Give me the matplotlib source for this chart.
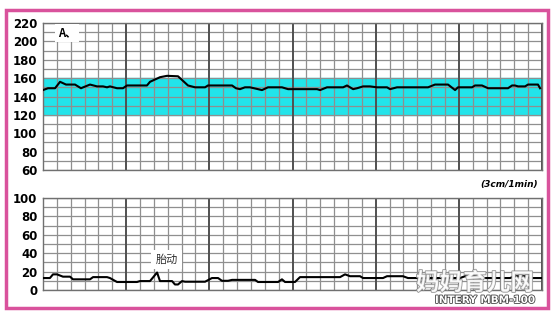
import numpy as np
import matplotlib.pyplot as plt
import matplotlib.patheffects as pe
from matplotlib.patches import Rectangle

# chart values (x in grid columns, 36 columns across)
fhr_t = [0, 0.36, 0.87, 1.23, 1.66, 2.31, 2.74, 3.39, 3.9, 4.33, 4.62, 4.83, 5.34, 5.77,
         6.06, 7.5, 7.72, 8.44, 8.95, 9.74, 10.03, 10.46, 10.97, 11.69, 11.9, 13.64,
         13.92, 14.21, 14.57, 14.93, 15.8, 16.23, 17.24, 17.68, 19.77, 19.99, 20.49,
         21.65, 21.93, 22.37, 22.66, 23.09, 23.59, 24.1, 24.82, 25.04, 25.54, 27.78,
         28.28, 29.22, 29.73, 29.94, 30.95, 31.17, 31.67, 32.11, 33.55, 33.84, 34.05,
         34.27, 34.78, 34.99, 35.71, 35.86]
fhr_bpm = [147, 149, 149, 156, 153, 153, 149, 153, 151, 151, 150, 151, 149, 149,
           152, 152, 156, 161, 162.5, 162, 158, 152, 150, 150, 152, 152,
           149, 148, 150, 150, 147, 150, 150, 148, 148, 147, 150,
           150, 152, 148, 149, 151, 151, 150, 150, 148, 150, 150,
           153, 153, 147, 150, 150, 152, 152, 149, 149, 152, 152,
           151, 151, 153, 153, 149]

toco_t = [0, 0.5, 0.72, 1.01, 1.44, 1.95, 2.16, 3.39, 3.61, 4.62, 4.83, 5.34, 6.78, 7.0,
          7.72, 8.23, 8.44, 9.31, 9.52, 9.74, 10.03, 10.25, 11.69, 12.19, 12.63, 12.91,
          13.35, 13.64, 15.3, 15.51, 16.96, 17.24, 17.46, 18.18, 18.54, 21.43, 21.79,
          22.15, 22.87, 23.09, 24.53, 24.82, 25.97, 26.33, 30.09, 30.45, 31.17, 31.53,
          33.69, 34.05, 34.78, 35.14, 36]
toco_val = [13, 13, 17, 17, 14.5, 14.5, 11.6, 11.6, 14, 14, 13, 8.7, 8.7, 9.7,
            9.7, 19, 9.7, 9.7, 6, 6, 9.7, 9, 9, 13, 13, 10,
            10, 11, 11, 8.7, 8.7, 11.6, 8.7, 8.7, 14, 14, 17,
            15, 15, 13, 13, 15, 15, 13, 13, 15, 15, 13,
            13, 15, 15, 13, 13]

fhr_ticks = [60, 80, 100, 120, 140, 160, 180, 200, 220]
toco_ticks = [0, 20, 40, 60, 80, 100]
normal_band = (120, 160)

fig = plt.figure(figsize=(5.59, 3.18), dpi=100)
fig.patch.set_facecolor("white")

# pink frame
fig.add_artist(Rectangle((6 / 559, 1 - 308 / 318), 542 / 559, 298 / 318,
                         transform=fig.transFigure, fill=False,
                         edgecolor="#d9529c", linewidth=2.5))

ax1 = fig.add_axes([43 / 559, 1 - 170 / 318, 499 / 559, 147 / 318])
ax2 = fig.add_axes([43 / 559, 1 - 290 / 318, 499 / 559, 92 / 318])


def grid(ax, ymin, ymax):
    for v in range(ymin, ymax + 1, 10):
        ax.axhline(v, color="#8f8f8f", lw=0.9, zorder=1)
    for c in range(37):
        major = c % 6 == 0
        ax.axvline(c, color="#505050" if major else "#8f8f8f",
                   lw=1.4 if major else 0.9, zorder=2 if major else 1)
    ax.set_xlim(0, 36)
    ax.set_ylim(ymin, ymax)
    ax.set_xticks([])
    for s in ax.spines.values():
        s.set_color("#707070")
        s.set_linewidth(1.0)
    ax.tick_params(axis="y", length=0, pad=4)


grid(ax1, 60, 220)
ax1.axhspan(*normal_band, color="#22e4ea", zorder=0)
ax1.plot(fhr_t, fhr_bpm, color="black", lw=1.5, zorder=3)
ax1.set_yticks(fhr_ticks)
ax1.set_yticklabels([str(v) for v in fhr_ticks], fontsize=8.5, fontweight="bold")
ax1.text(1.1, 209, "A、", fontsize=8, fontweight="bold", va="center",
         family=["Noto Sans CJK SC", "DejaVu Sans"],
         bbox=dict(facecolor="white", edgecolor="none", pad=2), zorder=4)

grid(ax2, 0, 100)
ax2.plot(toco_t, toco_val, color="black", lw=1.5, zorder=3)
ax2.set_yticks(toco_ticks)
ax2.set_yticklabels([str(v) for v in toco_ticks], fontsize=8.5, fontweight="bold")
ax2.text(8.9, 33, "胎动", fontsize=8, color="#333333", ha="center", va="center",
         family=["Noto Sans CJK SC", "DejaVu Sans"],
         bbox=dict(facecolor="white", edgecolor="none", pad=3), zorder=4)

fig.text(538 / 559, 1 - 184 / 318, "(3cm/1min)", fontsize=6.5, fontweight="bold",
         style="italic", ha="right", va="center")

# watermark and device label
fig.text(475 / 559, 1 - 283 / 318, "妈妈育儿网", fontsize=17, color="white",
         ha="center", va="center", family=["Noto Sans CJK SC", "DejaVu Sans"],
         fontweight="bold", alpha=0.85,
         path_effects=[pe.withStroke(linewidth=1.2, foreground="#888888")])
fig.text(485 / 559, 1 - 300 / 318, "INTERY MBM-100", fontsize=7.5, color="white",
         ha="center", va="center", fontweight="bold",
         path_effects=[pe.withStroke(linewidth=1.2, foreground="#444444")])

fig.savefig("out.png", dpi=100)
